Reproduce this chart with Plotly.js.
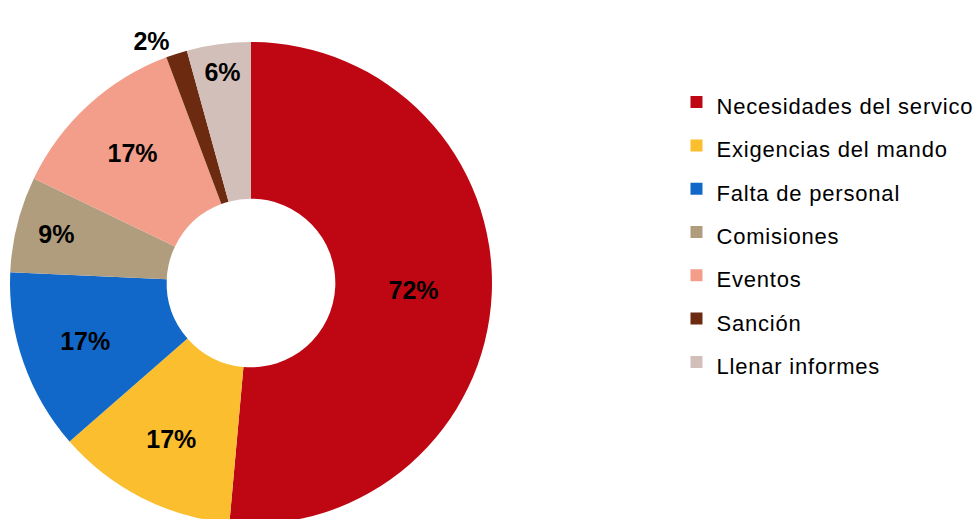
<!DOCTYPE html>
<html>
<head>
<meta charset="utf-8">
<script src="https://cdn.plot.ly/plotly-3.0.1.min.js"></script>
<style>
  html, body { margin: 0; padding: 0; overflow: hidden; background: #fff; }
  #chart { width: 979px; height: 524px; }
  /* the source font is a little wider than Liberation Sans */
  .legendtext { letter-spacing: 0.8px; }
</style>
</head>
<body>
<div id="chart"></div>
<script>
// Data (values shown as percentages):
const categories = ["Necesidades del servico", "Exigencias del mando", "Falta de personal",
                    "Comisiones", "Eventos", "Sanción", "Llenar informes"];
const percents = [72, 17, 17, 9, 17, 2, 6];
const slice_colors = ["#BE0713", "#FBBE2E", "#1268C8", "#B09D7E", "#F29E8A", "#6C2B11", "#D3BFB9"];
const label_positions = ["inside", "inside", "inside", "inside", "inside", "outside", "inside"];

const donut_trace = [{
    type: "pie",
    labels: categories.map(c => '<span style="font-size:22px">' + c + '</span>'),
    values: percents,
    text: percents.map(p => p + "%"),
    textinfo: "text",
    textposition: label_positions,
    insidetextorientation: "horizontal",
    hole: 0.35,
    sort: false,
    direction: "clockwise",
    rotation: 0,
    marker: {
        colors: slice_colors,
        line: { width: 0 }
    },
    textfont: {
        family: "Liberation Sans, Arial, sans-serif",
        size: 25,
        color: "#000000",
        weight: "bold"
    },
    // Pie placed so that the ring is a bit cut at the bottom, as in the picture
    domain: { x: [10 / 979, 492 / 979], y: [0, 1 - 42 / 524] },
    hoverinfo: "label+percent"
}];

Plotly.newPlot("chart", donut_trace, {
    width: 979,
    height: 524,
    margin: { l: 0, r: 0, t: 0, b: 0 },
    paper_bgcolor: "#ffffff",
    font: {
        family: "Liberation Sans, Arial, sans-serif",
        color: "#000000"
    },
    showlegend: true,
    legend: {
        x: 0.691,
        y: 0.856,
        xanchor: "left",
        yanchor: "top",
        font: { size: 31, color: "#000000" },
        bgcolor: "rgba(0,0,0,0)"
    }
}, { displayModeBar: false, staticPlot: true });
</script>
</body>
</html>
